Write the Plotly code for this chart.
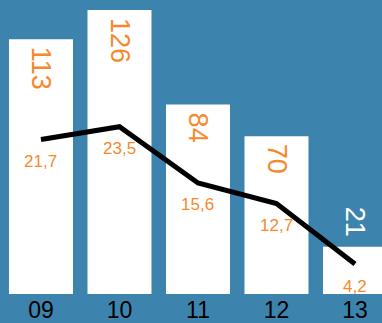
import plotly.graph_objects as go

years = ["09", "10", "11", "12", "13"]
bar_values = [113, 126, 84, 70, 21]
line_values = [21.7, 23.5, 15.6, 12.7, 4.2]
line_labels = ["21,7", "23,5", "15,6", "12,7", "4,2"]

BG = "#3C84AD"
ORANGE = "#F5892C"
FONT = "Liberation Sans, Arial"

x = list(range(len(years)))

fig = go.Figure()
fig.add_trace(go.Bar(
    x=x, y=bar_values, width=0.815,
    marker=dict(color="white", line=dict(width=0)),
    hoverinfo="skip",
))
fig.add_trace(go.Scatter(
    x=x, y=line_values, yaxis="y2", mode="lines",
    line=dict(color="black", width=5),
    hoverinfo="skip",
))
for i, (xi, v) in enumerate(zip(x, bar_values)):
    inside = v > 40
    fig.add_annotation(x=xi, y=v, text=str(v), showarrow=False, textangle=90,
                       yanchor="top" if inside else "bottom",
                       yshift=-6 if inside else 8,
                       font=dict(family=FONT, size=27,
                                 color=ORANGE if inside else "white"))
for xi, v, lab in zip(x, line_values, line_labels):
    fig.add_annotation(x=xi, y=v, yref="y2", text=lab, showarrow=False,
                       yanchor="middle", yshift=-22,
                       font=dict(family=FONT, size=17, color=ORANGE))

fig.update_layout(
    width=382, height=323,
    margin=dict(l=0, r=0, t=0, b=29),
    paper_bgcolor=BG, plot_bgcolor=BG,
    showlegend=False,
    xaxis=dict(range=[-0.522, 4.344], tickmode="array", tickvals=x, ticktext=years,
               showgrid=False, zeroline=False, showline=False, ticks="",
               tickfont=dict(family=FONT, size=23, color="black")),
    yaxis=dict(range=[0, 130.4], visible=False),
    yaxis2=dict(range=[0, 41.3], overlaying="y", visible=False),
)
fig.write_html("out.html")
